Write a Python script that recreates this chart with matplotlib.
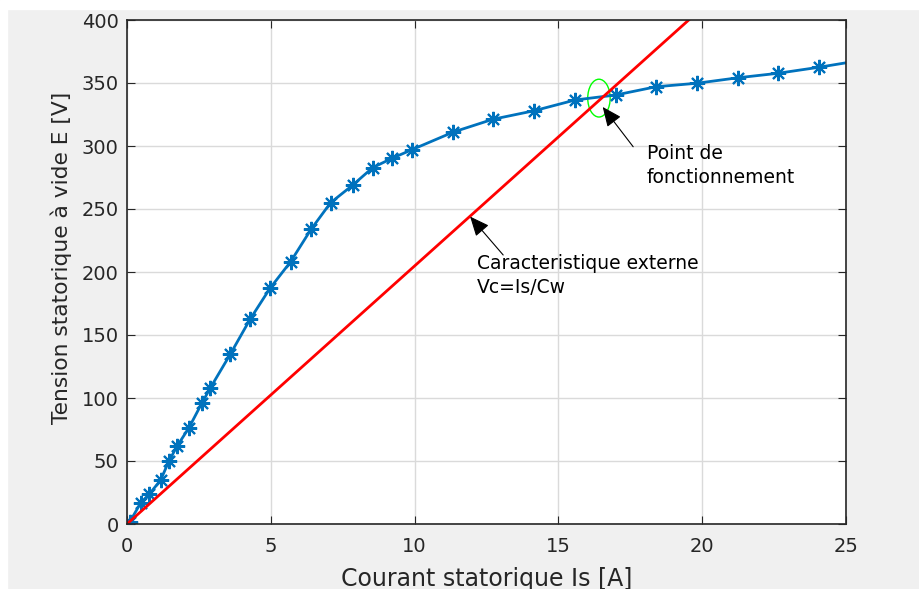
import numpy as np
import matplotlib.pyplot as plt
from matplotlib.patches import Ellipse, Rectangle

plt.rcParams['font.family'] = ['DejaVu Sans']

# courbe de magnetisation
Is = [0.1, 0.48, 0.78, 1.17, 1.46, 1.75, 2.15, 2.6, 2.89, 3.59, 4.28, 4.97, 5.69,
      6.4, 7.08, 7.85, 8.54, 9.21, 9.9, 11.35, 12.72, 14.16, 15.58, 17.0, 18.39,
      19.81, 21.26, 22.63, 24.06, 25.5]
E = [1.8, 16.9, 23.8, 34.9, 50, 62.1, 76.2, 95.8, 107.7, 134.7, 162.5, 187, 208.2,
     233.9, 255, 269, 282.8, 290.2, 297, 311.1, 321.2, 328, 336.5, 340.5, 347,
     349.8, 354.2, 357.7, 362.5, 367.9]

# caracteristique externe Vc = Is/Cw
Is_ext = [0, 25]
Vc = [0, 512]

x_ticks = [0, 5, 10, 15, 20, 25]
y_ticks = [0, 50, 100, 150, 200, 250, 300, 350, 400]

fig = plt.figure(figsize=(9.19, 5.89), dpi=100, facecolor='#f0f0f0')
# bandes blanches (bord de la capture)
fig.add_artist(Rectangle((0, 1 - 9 / 589), 1, 9 / 589, transform=fig.transFigure,
                         color='white', zorder=-1))
fig.add_artist(Rectangle((0, 0), 7 / 919, 1, transform=fig.transFigure,
                         color='white', zorder=-1))
ax = fig.add_axes([127 / 919, 1 - 524 / 589, 719 / 919, 504 / 589])

ax.plot(Is, E, '-', color='#0072BD', lw=2, marker=(8, 2, 0), ms=11, mew=1.5)
ax.plot(Is_ext, Vc, '-', color='red', lw=2)

# point de fonctionnement
ax.add_patch(Ellipse((16.41, 338), 0.78, 30, fill=False, ec='#00ff00', lw=1))

arrow = dict(arrowstyle='-|>,head_length=0.8,head_width=0.35', color='black',
             lw=0.8, mutation_scale=15, shrinkA=0, shrinkB=0)
ax.annotate('', xy=(16.54, 331), xytext=(17.6, 299.4), arrowprops=arrow)
ax.annotate('', xy=(11.93, 244), xytext=(13.08, 213.5), arrowprops=arrow)

ax.text(18.07, 289.7, 'Point de', fontsize=13.5, va='baseline')
ax.text(18.07, 270.6, 'fonctionnement', fontsize=13.5, va='baseline')
ax.text(12.18, 202.4, 'Caracteristique externe', fontsize=13.5, va='baseline')
ax.text(12.18, 183.3, 'Vc=Is/Cw', fontsize=13.5, va='baseline')

ax.set_xlim(0, 25)
ax.set_ylim(0, 400)
ax.set_xticks(x_ticks)
ax.set_yticks(y_ticks)
ax.grid(True, color='#dadada', lw=1)
ax.set_axisbelow(True)
ax.tick_params(direction='in', top=True, right=True, labelsize=14, length=6,
               colors='#262626')
ax.tick_params(axis='x', pad=9)
ax.tick_params(axis='y', pad=6)
for s in ax.spines.values():
    s.set_color('#262626')
    s.set_linewidth(1.2)

ax.set_xlabel('Courant statorique Is [A]', fontsize=17, color='#262626', labelpad=8)
ax.set_ylabel('Tension statorique à vide E [V]', fontsize=15.7, color='#262626')
ax.yaxis.set_label_coords(-0.077, 0.528)

fig.savefig('out.png', dpi=100, facecolor=fig.get_facecolor())
